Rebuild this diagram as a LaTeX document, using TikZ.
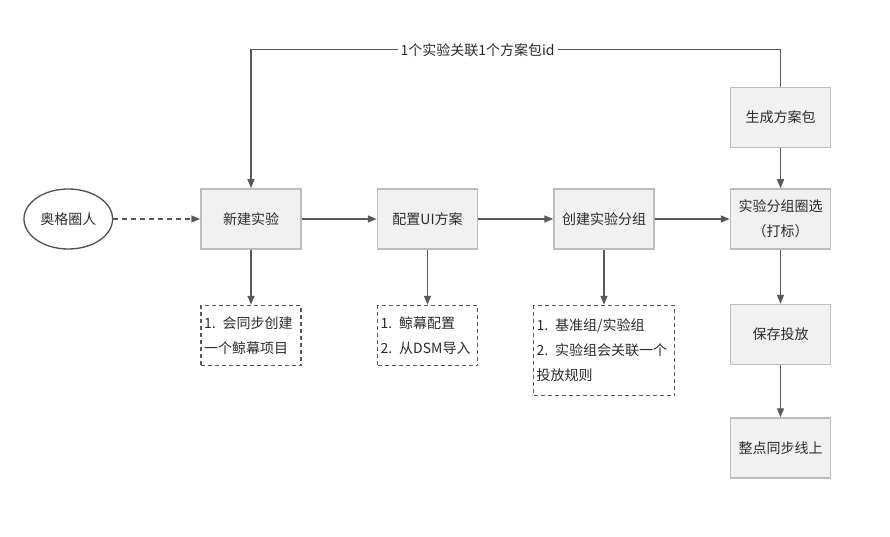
\documentclass[tikz,border=0pt]{standalone}
\usepackage{fontspec}
\setmainfont{Noto Sans CJK SC}
\usetikzlibrary{shapes.geometric, arrows.meta, positioning}

\definecolor{linegray}{HTML}{595959}
\definecolor{boxgray}{HTML}{BDBDBD}
\definecolor{fillgray}{HTML}{F1F1F1}
\definecolor{textgray}{HTML}{2B2B2B}

\begin{document}
\begin{tikzpicture}[
    x=1pt, y=1pt,
    every node/.style={text=textgray, font=\fontsize{14}{25}\selectfont},
    box/.style={rectangle, draw=boxgray, fill=fillgray, line width=1.5pt, minimum width=100pt, minimum height=60pt, align=center, inner sep=2pt},
    note/.style={rectangle, draw=linegray, dash pattern=on 4pt off 3pt, line width=1.5pt, align=left, inner sep=3pt},
    actor/.style={ellipse, draw=linegray!90!black, fill=white, line width=1.3pt, minimum width=86pt, minimum height=60pt},
    arrow/.style={-{Triangle[length=9pt,width=7pt]}, line width=1.5pt, draw=linegray}
  ]
    \useasboundingbox (0,0) rectangle (890,-537);

    % Main Flow
    \node[box] (newexp) at (251,-219) {新建实验};
    \node[box, right=75pt of newexp] (uiplan) {配置UI方案};
    \node[box, right=75pt of uiplan] (groups) {创建实验分组};
    \node[box, right=75pt of groups] (select) {实验分组圈选\\（打标）};

    % Actor
    \node[actor, left=87pt of newexp] (user) {奥格圈人};

    % Right Column
    \node[box, above=40pt of select] (pkg) {生成方案包};
    \node[box, below=54pt of select] (save) {保存投放};
    \node[box, below=52pt of save] (online) {整点同步线上};

    % Notes
    \node[note, text width=94pt, minimum height=60pt, below=55pt of newexp] (note1) {1. 会同步创建\\一个鲸幕项目};
    \node[note, text width=94pt, minimum height=60pt, below=55pt of uiplan] (note2) {1. 鲸幕配置\\2. 从DSM导入};
    \node[note, text width=135pt, minimum height=90pt, below=55pt of groups] (note3) {1. 基准组/实验组\\2. 实验组会关联一个\\投放规则};

    % Connections
    \draw[arrow, dash pattern=on 5pt off 4pt] (user) -- (newexp);
    \draw[arrow] (newexp) -- (uiplan);
    \draw[arrow] (uiplan) -- (groups);
    \draw[arrow] (groups) -- (select);
    \draw[arrow] (pkg) -- (select);
    \draw[arrow] (select) -- (save);
    \draw[arrow] (save) -- (online);
    \draw[arrow] (newexp) -- (note1);
    \draw[arrow] (uiplan) -- (note2);
    \draw[arrow] (groups) -- (note3);
    \draw[arrow] (pkg.north) -- ++(0,37) -| node[pos=0.286, fill=white, inner sep=3pt] {1个实验关联1个方案包id} (newexp.north);

\end{tikzpicture}
\end{document}
